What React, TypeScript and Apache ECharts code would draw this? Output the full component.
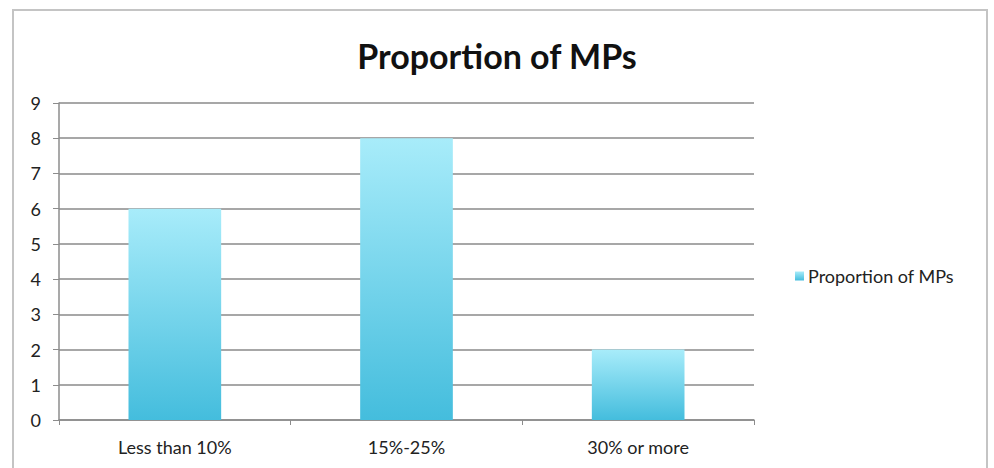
import React, { useEffect, useRef } from "react";
import * as echarts from "echarts";

const categories = ["Less than 10%", "15%-25%", "30% or more"];
const values = [6, 8, 2];
const seriesName = "Proportion of MPs";
const titleText = "Proportion of MPs";

export default function App() {
  const ref = useRef<HTMLDivElement>(null);
  useEffect(() => {
    const chart = echarts.init(ref.current!, null, { renderer: "svg" });
    const font = "Lato, 'Open Sans', sans-serif";
    chart.setOption({
      animation: false,
      backgroundColor: "#ffffff",
      textStyle: { fontFamily: font },
      title: {
        text: titleText,
        left: "center",
        top: 33,
        textStyle: { fontSize: 34, fontWeight: "bold", color: "#111", fontFamily: font },
      },
      graphic: [
        {
          type: "rect",
          shape: { x: 13, y: 10, width: 974, height: 470 },
          style: { fill: "none", stroke: "#c4c4c4", lineWidth: 2 },
          silent: true,
        },
      ],
      legend: {
        show: true,
        left: 790,
        top: 262,
        orient: "vertical",
        itemWidth: 9,
        itemHeight: 9,
        itemGap: 10,
        icon: "rect",
        textStyle: { fontSize: 18, color: "#222", fontFamily: font, padding: [0, 0, 0, -1] },
        data: [seriesName],
      },
      grid: { left: 59, right: 240, top: 103, bottom: 48 },
      xAxis: {
        type: "category",
        data: categories,
        axisLine: { lineStyle: { color: "#8c8c8c", width: 1.5 } },
        axisTick: { show: true, length: 5, lineStyle: { color: "#8c8c8c" } },
        axisLabel: { fontSize: 18, color: "#222", margin: 18, fontFamily: font },
      },
      yAxis: {
        type: "value",
        min: 0,
        max: 9,
        interval: 1,
        axisLine: { show: true, lineStyle: { color: "#8c8c8c", width: 1.5 } },
        axisTick: { show: true, length: 6, lineStyle: { color: "#8c8c8c" } },
        axisLabel: { fontSize: 18, color: "#222", margin: 18, fontFamily: font },
        splitLine: { lineStyle: { color: "#8a8a8a", width: 1.5 } },
      },
      series: [
        {
          name: seriesName,
          type: "bar",
          data: values,
          barWidth: "40%",
          itemStyle: {
            color: new echarts.graphic.LinearGradient(0, 0, 0, 1, [
              { offset: 0, color: "#a8ecfa" },
              { offset: 1, color: "#44bddd" },
            ]),
          },
        },
      ],
    });
    return () => chart.dispose();
  }, []);
  return (
    <div
      ref={ref}
      style={{ position: "fixed", left: 0, top: 0, width: 994, height: 468 }}
    />
  );
}
